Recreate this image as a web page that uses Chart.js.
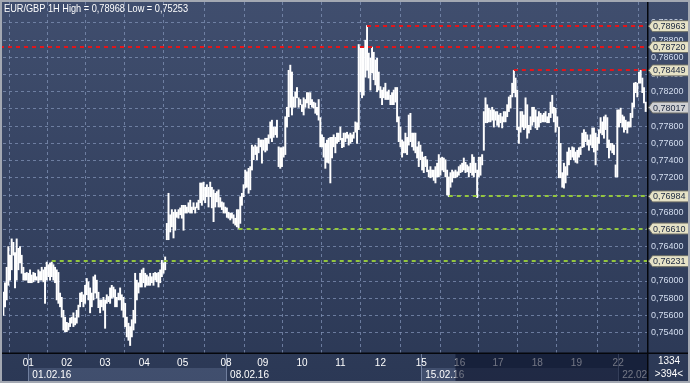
<!DOCTYPE html>
<html><head><meta charset="utf-8">
<script src="https://cdn.jsdelivr.net/npm/chart.js@4.4.1/dist/chart.umd.min.js"></script>
<style>html,body{margin:0;padding:0;background:#2e3c5a;overflow:hidden}canvas{display:block}</style>
</head><body><canvas id="c" width="690" height="383"></canvas>
<script>
// ---- data (hourly bars, EUR/GBP) ----
const highs = [
0.7587,0.7598,0.7616,0.7640,0.7630,0.7649,0.7645,0.7633,0.7649,0.7638,
0.7640,0.7630,0.7616,0.7609,0.7610,0.7609,0.7613,0.7607,0.7610,0.7609,
0.7605,0.7613,0.7611,0.7616,0.7613,0.7616,0.7622,0.7619,0.7621,0.7622,
0.7619,0.7616,0.7613,0.7610,0.7586,0.7581,0.7566,0.7558,0.7552,0.7551,
0.7557,0.7558,0.7563,0.7557,0.7566,0.7572,0.7586,0.7587,0.7584,0.7595,
0.7603,0.7599,0.7592,0.7586,0.7605,0.7607,0.7601,0.7587,0.7578,0.7578,
0.7581,0.7578,0.7584,0.7582,0.7592,0.7595,0.7593,0.7590,0.7581,0.7586,
0.7592,0.7584,0.7581,0.7574,0.7558,0.7551,0.7547,0.7555,0.7566,0.7609,
0.7601,0.7598,0.7609,0.7613,0.7615,0.7609,0.7607,0.7605,0.7609,0.7605,
0.7609,0.7610,0.7609,0.7610,0.7613,0.7624,0.7621,0.7628,
0.7667,0.7702,0.7677,0.7683,0.7680,0.7683,0.7680,0.7683,0.7685,0.7688,
0.7688,0.7688,0.7686,0.7691,0.7694,0.7686,0.7691,0.7686,0.7691,0.7694,
0.7714,0.7714,0.7715,0.7709,0.7712,0.7709,0.7715,0.7709,0.7706,0.7702,
0.7704,0.7706,0.7697,0.7692,0.7691,0.7686,0.7685,0.7680,0.7679,0.7679,
0.7677,0.7673,0.7683,0.7683,0.7698,0.7702,0.7712,0.7729,0.7727,0.7731,
0.7733,0.7758,0.7756,0.7758,0.7756,0.7766,0.7764,0.7764,0.7764,0.7766,
0.7766,0.7770,0.7785,0.7787,0.7779,0.7779,0.7787,0.7756,0.7755,0.7755,
0.7756,0.7791,0.7802,0.7845,0.7851,0.7843,0.7814,0.7820,0.7825,0.7813,
0.7811,0.7805,0.7813,0.7811,0.7819,0.7819,0.7819,0.7811,0.7808,0.7807,
0.7802,0.7811,0.7790,
0.7770,0.7767,0.7760,0.7764,0.7766,0.7767,0.7767,0.7770,0.7767,0.7772,
0.7772,0.7779,0.7766,0.7772,0.7772,0.7773,0.7770,0.7772,0.7770,0.7773,
0.7785,0.7784,0.7875,0.7872,0.7871,0.7871,0.7880,0.7897,0.7865,0.7859,
0.7872,0.7866,0.7857,0.7859,0.7843,0.7826,0.7822,0.7825,0.7830,0.7820,
0.7822,0.7816,0.7819,0.7822,0.7825,0.7825,0.7791,0.7779,0.7764,0.7762,
0.7772,0.7767,0.7793,0.7795,0.7772,0.7772,0.7772,0.7756,0.7762,0.7758,
0.7750,0.7744,0.7745,0.7741,0.7729,0.7733,0.7729,0.7729,0.7733,0.7737,
0.7747,0.7743,0.7744,0.7743,0.7741,0.7729,0.7721,0.7726,0.7729,0.7727,
0.7729,0.7727,0.7733,0.7735,0.7737,0.7743,0.7738,0.7735,0.7733,0.7737,
0.7747,0.7744,0.7737,0.7729,0.7744,
0.7744,0.7747,0.7797,0.7813,0.7805,0.7801,0.7799,0.7802,0.7799,0.7797,
0.7797,0.7793,0.7795,0.7791,0.7797,0.7797,0.7805,0.7814,0.7816,0.7830,
0.7845,0.7836,0.7822,0.7779,0.7797,0.7797,0.7793,0.7813,0.7805,0.7781,
0.7791,0.7802,0.7802,0.7799,0.7791,0.7797,0.7795,0.7793,0.7795,0.7797,
0.7791,0.7795,0.7808,0.7816,0.7802,0.7801,0.7791,0.7779,0.7760,0.7726,
0.7737,0.7733,0.7750,0.7755,0.7752,0.7756,0.7755,0.7750,0.7752,0.7755,
0.7756,0.7772,0.7776,0.7773,0.7770,0.7764,0.7770,0.7778,0.7778,0.7772,
0.7767,0.7776,0.7790,0.7785,0.7791,0.7793,0.7790,0.7764,0.7760,0.7760,
0.7758,0.7735,0.7799,0.7799,0.7801,0.7793,0.7791,0.7787,0.7785,0.7785,
0.7795,0.7807,0.7830,0.7831,0.7830,0.7843,0.7845,0.7836,0.7825,0.7808
];
const lows = [
0.7560,0.7570,0.7578,0.7595,0.7601,0.7613,0.7630,0.7592,0.7601,0.7613,
0.7621,0.7609,0.7601,0.7601,0.7601,0.7598,0.7598,0.7598,0.7599,0.7601,
0.7601,0.7598,0.7601,0.7601,0.7599,0.7574,0.7601,0.7605,0.7601,0.7605,
0.7601,0.7598,0.7578,0.7574,0.7570,0.7558,0.7543,0.7541,0.7541,0.7543,
0.7547,0.7551,0.7547,0.7549,0.7551,0.7558,0.7570,0.7576,0.7570,0.7574,
0.7584,0.7578,0.7563,0.7570,0.7578,0.7586,0.7580,0.7569,0.7563,0.7570,
0.7566,0.7545,0.7574,0.7576,0.7574,0.7580,0.7581,0.7570,0.7570,0.7578,
0.7578,0.7566,0.7558,0.7547,0.7535,0.7531,0.7525,0.7535,0.7543,0.7551,
0.7578,0.7586,0.7593,0.7593,0.7598,0.7593,0.7595,0.7595,0.7595,0.7598,
0.7595,0.7601,0.7599,0.7593,0.7598,0.7605,0.7609,0.7613,
0.7648,0.7648,0.7657,0.7663,0.7650,0.7659,0.7674,0.7673,0.7677,0.7673,
0.7659,0.7679,0.7679,0.7680,0.7679,0.7679,0.7683,0.7679,0.7685,0.7683,
0.7691,0.7688,0.7694,0.7691,0.7698,0.7686,0.7698,0.7685,0.7669,0.7686,
0.7692,0.7686,0.7686,0.7683,0.7679,0.7679,0.7674,0.7673,0.7671,0.7673,
0.7667,0.7665,0.7663,0.7661,0.7667,0.7688,0.7698,0.7708,0.7709,0.7702,
0.7706,0.7729,0.7741,0.7747,0.7741,0.7749,0.7756,0.7737,0.7752,0.7750,
0.7752,0.7760,0.7766,0.7762,0.7767,0.7770,0.7767,0.7733,0.7731,0.7733,
0.7744,0.7747,0.7779,0.7791,0.7802,0.7793,0.7802,0.7802,0.7813,0.7802,
0.7805,0.7797,0.7793,0.7802,0.7807,0.7801,0.7805,0.7802,0.7801,0.7795,
0.7793,0.7787,0.7756,
0.7756,0.7744,0.7731,0.7738,0.7737,0.7714,0.7743,0.7756,0.7749,0.7760,
0.7762,0.7764,0.7755,0.7756,0.7762,0.7766,0.7758,0.7760,0.7762,0.7766,
0.7773,0.7760,0.7776,0.7820,0.7813,0.7816,0.7837,0.7845,0.7836,0.7822,
0.7842,0.7834,0.7828,0.7820,0.7822,0.7813,0.7805,0.7813,0.7811,0.7811,
0.7811,0.7805,0.7805,0.7805,0.7808,0.7785,0.7762,0.7756,0.7744,0.7749,
0.7749,0.7747,0.7758,0.7762,0.7756,0.7752,0.7749,0.7743,0.7733,0.7741,
0.7729,0.7726,0.7733,0.7727,0.7721,0.7720,0.7721,0.7717,0.7714,0.7721,
0.7721,0.7723,0.7729,0.7727,0.7721,0.7700,0.7698,0.7709,0.7715,0.7720,
0.7720,0.7721,0.7723,0.7726,0.7727,0.7729,0.7726,0.7727,0.7721,0.7726,
0.7723,0.7721,0.7726,0.7697,0.7721,
0.7723,0.7735,0.7752,0.7784,0.7784,0.7785,0.7785,0.7787,0.7779,0.7787,
0.7781,0.7779,0.7784,0.7778,0.7785,0.7785,0.7791,0.7797,0.7801,0.7814,
0.7819,0.7814,0.7776,0.7760,0.7773,0.7779,0.7776,0.7778,0.7766,0.7772,
0.7776,0.7781,0.7785,0.7778,0.7776,0.7779,0.7784,0.7785,0.7785,0.7785,
0.7784,0.7784,0.7790,0.7795,0.7785,0.7773,0.7779,0.7720,0.7720,0.7709,
0.7708,0.7714,0.7723,0.7735,0.7741,0.7744,0.7741,0.7738,0.7737,0.7744,
0.7747,0.7755,0.7756,0.7762,0.7758,0.7752,0.7758,0.7755,0.7750,0.7735,
0.7752,0.7760,0.7772,0.7770,0.7766,0.7776,0.7755,0.7743,0.7752,0.7749,
0.7747,0.7721,0.7721,0.7779,0.7784,0.7779,0.7773,0.7776,0.7772,0.7779,
0.7779,0.7790,0.7802,0.7819,0.7814,0.7830,0.7830,0.7819,0.7807,0.7797
];
const dayTicks  = [15, 38, 61, 84.5, 107.5, 133.5, 155.5, 179, 202, 226, 250.5, 273.5, 296.5, 320, 343.5, 368.5];
const dayLabels = ['01','02','03','04','05','08','09','10','11','12','15','16','17','18','19','22'];
const weekTicks  = [15, 133.5, 250.5, 368.5];
const weekLabels = ['01.02.16','08.02.16','15.02.16','22.02.16'];
const yTickValues = [0.754,0.756,0.758,0.760,0.762,0.764,0.766,0.768,0.770,0.772,0.774,0.776,0.778,0.780,0.782,0.784,0.786,0.788,0.790];
const resistanceLevels = [0.78963, 0.78720, 0.78449];
const resistanceFrom   = [218, null, 306];
const supportLevels    = [0.76984, 0.76610, 0.76231];
const supportFrom      = [267, 141, 29];
const lastPrice = 0.78017;
const titleText = 'EUR/GBP 1H High = 0,78968 Low = 0,75253';
const infoLines = ['1334', '>394<'];

// ---- styling ----
const FONT = "'Liberation Sans Narrow','Arial Narrow','Liberation Sans',Arial,sans-serif";
const GRID = 'rgba(128,146,182,0.75)';
const fmt = v => v.toFixed(5).replace('.', ',');
Chart.defaults.font.family = FONT;

const bars = lows.map((lo, i) => ({ x: i, y: [lo, highs[i]] }));

function tag(ctx, xTip, y, text, fill) {
  const h = 11, w = 37;
  ctx.beginPath();
  ctx.moveTo(xTip + 0.5, y);
  ctx.lineTo(xTip + 4.5, y - h / 2);
  ctx.lineTo(xTip + 4.5 + w, y - h / 2);
  ctx.lineTo(xTip + 4.5 + w, y + h / 2);
  ctx.lineTo(xTip + 4.5, y + h / 2);
  ctx.closePath();
  ctx.fillStyle = fill; ctx.fill();
  ctx.strokeStyle = '#6d6e66'; ctx.lineWidth = 1; ctx.stroke();
  ctx.fillStyle = '#1c2840';
  ctx.font = '9px ' + FONT;
  ctx.textAlign = 'left'; ctx.textBaseline = 'middle';
  ctx.fillText(text, xTip + 5, y + 0.5, 36);
}

const noPad = s => { s.paddingTop = 0; s.paddingBottom = 0; s.paddingLeft = 0; s.paddingRight = 0; };

const deco = {
  id: 'deco',
  beforeDraw(chart) {
    const { ctx, width, height, chartArea: a } = chart;
    const xs = chart.scales.x;
    ctx.save();
    const g = ctx.createLinearGradient(0, 0, 0, height);
    g.addColorStop(0, '#404e6e'); g.addColorStop(1, '#2b3855');
    ctx.fillStyle = g; ctx.fillRect(0, 0, width, height);
    ctx.beginPath(); ctx.rect(0, a.bottom, a.right, height - a.bottom); ctx.clip();
    weekTicks.forEach((t, i) => {
      const x0 = xs.getPixelForValue(t);
      const x1 = i + 1 < weekTicks.length ? xs.getPixelForValue(weekTicks[i + 1]) : a.right;
      if (i % 2 === 0) { ctx.fillStyle = 'rgba(90,106,140,0.45)'; ctx.fillRect(x0, a.bottom + 15, x1 - x0, 13); }
      ctx.fillStyle = 'rgba(120,134,165,0.9)'; ctx.fillRect(Math.round(x0), a.bottom + 1, 1, 27);
      ctx.fillStyle = '#ffffff'; ctx.font = '10px ' + FONT;
      ctx.textAlign = 'left'; ctx.textBaseline = 'middle';
      ctx.fillText(weekLabels[i], x0 + 4, a.bottom + 22);
    });
    ctx.restore();
  },
  afterDatasetsDraw(chart) {
    const { ctx, chartArea: a } = chart;
    const xs = chart.scales.x, ys = chart.scales.y;
    ctx.save();
    ctx.lineWidth = 2; ctx.setLineDash([4, 4]);
    const line = (v, from, col) => {
      const y = Math.round(ys.getPixelForValue(v));
      const x0 = from === null ? 0 : xs.getPixelForValue(from);
      ctx.strokeStyle = col; ctx.beginPath(); ctx.moveTo(x0, y); ctx.lineTo(a.right, y); ctx.stroke();
    };
    resistanceLevels.forEach((v, i) => line(v, resistanceFrom[i], '#e3151a'));
    supportLevels.forEach((v, i) => line(v, supportFrom[i], '#94c63e'));
    ctx.restore();
  },
  afterDraw(chart) {
    const { ctx, width, height, chartArea: a } = chart;
    const xs = chart.scales.x, ys = chart.scales.y;
    ctx.save();
    const ox = xs.getPixelForValue(271);
    ctx.fillStyle = 'rgba(8,16,40,0.58)';
    ctx.fillRect(ox, a.bottom + 1, a.right - ox, height - a.bottom - 3);
    ctx.fillStyle = '#05070c';
    ctx.fillRect(a.right - 1, 0, 1.5, height);
    ctx.fillRect(0, a.bottom - 0.5, width, 1.5);
    resistanceLevels.concat(supportLevels).forEach(v => tag(ctx, a.right, ys.getPixelForValue(v), fmt(v), '#e6e2c6'));
    tag(ctx, a.right, ys.getPixelForValue(lastPrice), fmt(lastPrice), '#cfd0d2');
    ctx.fillStyle = '#ffffff'; ctx.font = '11px ' + FONT;
    ctx.textAlign = 'left'; ctx.textBaseline = 'middle';
    ctx.fillText(titleText, 4, 8.5, 184);
    ctx.font = '10px ' + FONT; ctx.textAlign = 'center';
    ctx.fillText(infoLines[0], (a.right + width) / 2, a.bottom + 8);
    ctx.fillText(infoLines[1], (a.right + width) / 2, a.bottom + 21);
    ctx.strokeStyle = '#a3a8b2'; ctx.lineWidth = 2;
    ctx.strokeRect(1, 1, width - 2, height - 2);
    ctx.restore();
  }
};

new Chart(document.getElementById('c'), {
  type: 'bar',
  data: { datasets: [{ data: bars, backgroundColor: '#ffffff', borderWidth: 0, barThickness: 1.3 }] },
  options: {
    responsive: false, animation: false, devicePixelRatio: 1,
    layout: { padding: { left: 3, top: 2, right: 0, bottom: 0 } },
    plugins: { legend: { display: false }, tooltip: { enabled: false }, title: { display: false } },
    scales: {
      x: {
        type: 'linear', min: -0.2, max: 386.4, offset: false,
        afterBuildTicks: s => { s.ticks = dayTicks.map(v => ({ value: v })); },
        afterFit: s => { s.height = 30; noPad(s); },
        ticks: { callback: (v, i) => dayLabels[i], color: '#ffffff', font: { size: 10 }, padding: 4, autoSkip: false, maxRotation: 0 },
        grid: { color: GRID, drawTicks: false, lineWidth: 1 },
        border: { display: false, dash: [3, 3] }
      },
      y: {
        position: 'right', min: 0.75163, max: 0.79244,
        afterBuildTicks: s => { s.ticks = yTickValues.map(v => ({ value: v })); },
        afterFit: s => { s.width = 42; noPad(s); },
        ticks: { callback: v => fmt(v), color: '#d4def0', font: { size: 9 }, padding: 3, autoSkip: false },
        grid: { color: GRID, drawTicks: false, lineWidth: 1 },
        border: { display: false, dash: [3, 3] }
      }
    }
  },
  plugins: [deco]
});
</script></body></html>
